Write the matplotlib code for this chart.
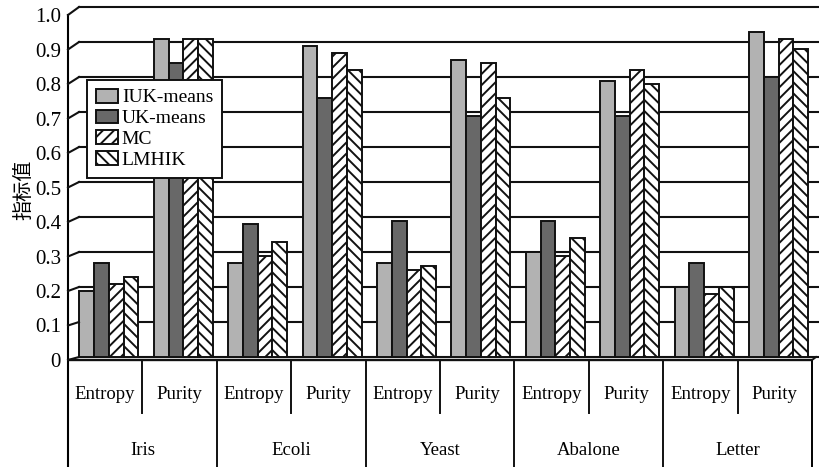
import matplotlib
matplotlib.use('Agg')
import matplotlib.pyplot as plt
import numpy as np
from matplotlib.lines import Line2D
from matplotlib.transforms import blended_transform_factory, IdentityTransform

plt.rcParams['font.family'] = ['Liberation Serif', 'Noto Sans CJK SC']
plt.rcParams['hatch.linewidth'] = 1.4

# data
datasets = ['Iris', 'Ecoli', 'Yeast', 'Abalone', 'Letter']
measures = ['Entropy', 'Purity']
methods = ['IUK-means', 'UK-means', 'MC', 'LMHIK']
# values per (dataset, measure): Iris-E, Iris-P, Ecoli-E, Ecoli-P, ...
iuk_means = [0.19, 0.91, 0.27, 0.89, 0.27, 0.85, 0.30, 0.79, 0.20, 0.93]
uk_means = [0.27, 0.84, 0.38, 0.74, 0.39, 0.69, 0.39, 0.69, 0.27, 0.80]
mc = [0.21, 0.91, 0.29, 0.87, 0.25, 0.84, 0.29, 0.82, 0.18, 0.91]
lmhik = [0.23, 0.91, 0.33, 0.82, 0.26, 0.74, 0.34, 0.78, 0.20, 0.88]
yticks = np.round(np.arange(0, 1.01, 0.1), 1)
ytick_labels = ['0'] + ['%.1f' % v for v in yticks[1:]]

W, H = 819, 467
fig = plt.figure(figsize=(W / 100, H / 100), dpi=100)


def rect(x0, y0, x1, y1):
    # pixel box -> figure fraction
    return [x0 / W, 1 - y1 / H, (x1 - x0) / W, (y1 - y0) / H]


# back wall: bars + gridlines
ax = fig.add_axes(rect(68, 7, 812, 357))
ax.set_xlim(-0.5, 9.5)
ax.set_ylim(0, 1)
ax.axis('off')

for v in yticks:
    ax.axhline(v, xmin=11 / 744, xmax=751 / 744, color='#111111', lw=1.5,
               zorder=1, clip_on=False)

n = len(iuk_means)
x = np.arange(n) + 0.05
bw = 0.198
styles = [
    dict(color='#b2b2b2'),
    dict(color='#686868'),
    dict(color='white', hatch='///'),
    dict(color='white', hatch='\\\\\\'),
]
series = [iuk_means, uk_means, mc, lmhik]
for k, (vals, st) in enumerate(zip(series, styles)):
    ax.bar(x + (k - 1.5) * bw, vals, bw, edgecolor='#111111', linewidth=1.4,
           label=methods[k], zorder=2, **st)

leg = ax.legend(loc='upper left', bbox_to_anchor=(87 / W, 1 - 80 / H),
                bbox_transform=fig.transFigure, fancybox=False, framealpha=1,
                edgecolor='#111111', borderaxespad=0, fontsize=14,
                handlelength=1.12, handleheight=0.72, handletextpad=0.22,
                labelspacing=0.16, borderpad=0.45)
leg.get_frame().set_linewidth(1.4)
leg.set_zorder(5)

# front plane: value axis and category table
fbot = -(467 - 360) / 345
front = fig.add_axes(rect(68, 15, 812, 467))
front.set_xlim(-0.5, 9.5)
front.set_ylim(fbot, 1.0)
front.patch.set_visible(False)
for s in ['top', 'bottom']:
    front.spines[s].set_visible(False)
front.spines['left'].set_linewidth(1.5)
front.spines['right'].set_linewidth(1.4)
front.spines['right'].set_bounds(fbot, 0)
front.set_xticks([])
front.set_yticks(yticks)
front.set_yticklabels(ytick_labels, fontsize=15)
front.tick_params(axis='y', length=0, pad=5)
front.axhline(0, color='#111111', lw=1.7)

for xs in [0.5, 2.5, 4.5, 6.5, 8.5]:
    front.plot([xs, xs], [0, -0.1536], color='#111111', lw=1.4)
for xs in [1.5, 3.5, 5.5, 7.5]:
    front.plot([xs, xs], [0, fbot], color='#111111', lw=1.4)
for i in range(n):
    front.text(i, -0.0986, measures[i % 2], ha='center', va='center',
               fontsize=13.5)
for j, name in enumerate(datasets):
    front.text(2 * j + 0.5, -0.261, name, ha='center', va='center',
               fontsize=13.5)

# depth edges joining front axis to back wall
bt = blended_transform_factory(ax.transAxes, ax.transData)
ft = blended_transform_factory(front.transAxes, front.transData)
for v in yticks:
    x0, y0 = ft.transform((0, v))
    x1, y1 = bt.transform((11 / 744, v))
    fig.add_artist(Line2D([x0, x1], [y0, y1], transform=IdentityTransform(),
                          color='#111111', lw=1.5))
x0, y0 = ft.transform((1, 0))
x1, y1 = bt.transform((1 + 4 / 744, 0))
fig.add_artist(Line2D([x0, x1], [y0, y1], transform=IdentityTransform(),
                      color='#111111', lw=1.4))

fig.text(24 / W, 1 - 190 / H, '指标值', rotation=90, ha='center', va='center',
         fontsize=14.5, family=['Noto Sans CJK SC', 'DejaVu Sans'])

fig.savefig('out.png', dpi=100)
